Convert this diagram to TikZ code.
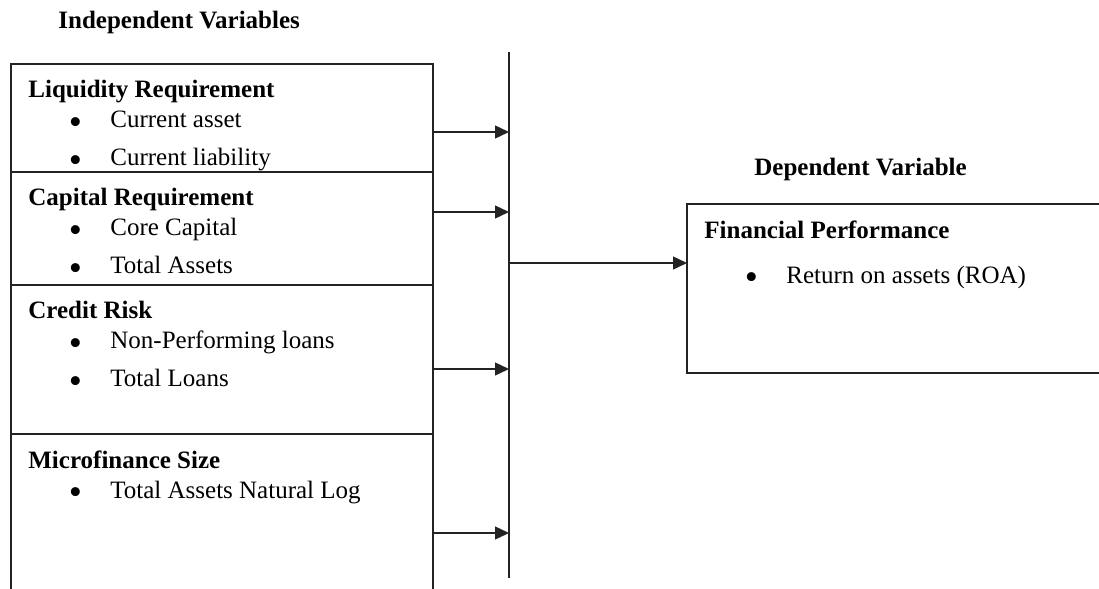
\documentclass[tikz,border=0pt]{standalone}
\usepackage{fontspec}
\setmainfont{Liberation Serif}
\definecolor{ink}{RGB}{35,35,35}
\usetikzlibrary{arrows.meta, calc}
\newcommand{\bul}{\hspace*{20.2pt}\makebox[20.8pt][l]{\smash{\raisebox{-3.4pt}{\scalebox{1.5}{\textbullet}}}}}

\begin{document}
\begin{tikzpicture}[x=0.5pt, y=-0.5pt,
  >={Triangle[length=7pt, width=6.5pt]},
  varbox/.style={
    rectangle, draw=ink, line width=0.7pt,
    anchor=north west, inner sep=0pt, outer sep=0pt,
    minimum width=211pt,
  },
  boxtext/.style={
    anchor=north west, align=left,
    inner xsep=8.5pt, inner ysep=8pt,
    font=\fontsize{12.5}{15}\selectfont,
  },
  vartitle/.style={
    anchor=base west, inner sep=0pt,
    font=\fontsize{12.5}{15}\selectfont\bfseries,
  },
  arr/.style={->, line width=0.7pt, color=ink},
  bar/.style={line width=0.7pt, color=ink},
]
\useasboundingbox (0,0) rectangle (1099,589);
\clip (0,0) rectangle (1099,589);

% --- Independent Variables ---
\node[vartitle] (indep) at (58,28) {Independent Variables};

\node[varbox, minimum height=54pt] (liq) at (11,64) {};
\node[boxtext] (liqt) at (liq.north west)
  {\textbf{Liquidity Requirement}\\ \bul Current asset\\[4pt] \bul Current liability};

\node[varbox, minimum height=56.5pt] (cap) at (11,172) {};
\node[boxtext] (capt) at (cap.north west)
  {\textbf{Capital Requirement}\\ \bul Core Capital\\[4pt] \bul Total Assets};

\node[varbox, minimum height=74.5pt] (cred) at (11,285) {};
\node[boxtext] (credt) at (cred.north west)
  {\textbf{Credit Risk}\\ \bul Non-Performing loans\\[4pt] \bul Total Loans};

\node[varbox, minimum height=93pt] (size) at (11,434) {};
\node[boxtext] (sizet) at (size.north west)
  {\textbf{Microfinance Size}\\ \bul Total Assets Natural Log};

% --- Dependent Variable ---
\node[vartitle] (dep) at (754,175) {Dependent Variable};

\node[varbox, minimum width=211.5pt, minimum height=84.5pt] (perf) at (687,204) {};
\node[boxtext] (perft) at (perf.north west)
  {\textbf{Financial Performance}\\[7.5pt] \bul Return on assets (ROA)};

% --- Collecting bar ---
\coordinate (bartop) at (509,52);
\coordinate (barbot) at (509,578);
\draw[bar] (bartop) -- (barbot);

\coordinate (j1) at (509,132);
\coordinate (j2) at (509,212);
\coordinate (j3) at (509,369);
\coordinate (j4) at (509,533);
\coordinate (jout) at (509,263);

\draw[arr] (liq.east |- j1) -- (j1);
\draw[arr] (cap.east |- j2) -- (j2);
\draw[arr] (cred.east |- j3) -- (j3);
\draw[arr] (size.east |- j4) -- (j4);
\draw[arr] (jout) -- (perf.west |- jout);

\end{tikzpicture}
\end{document}
